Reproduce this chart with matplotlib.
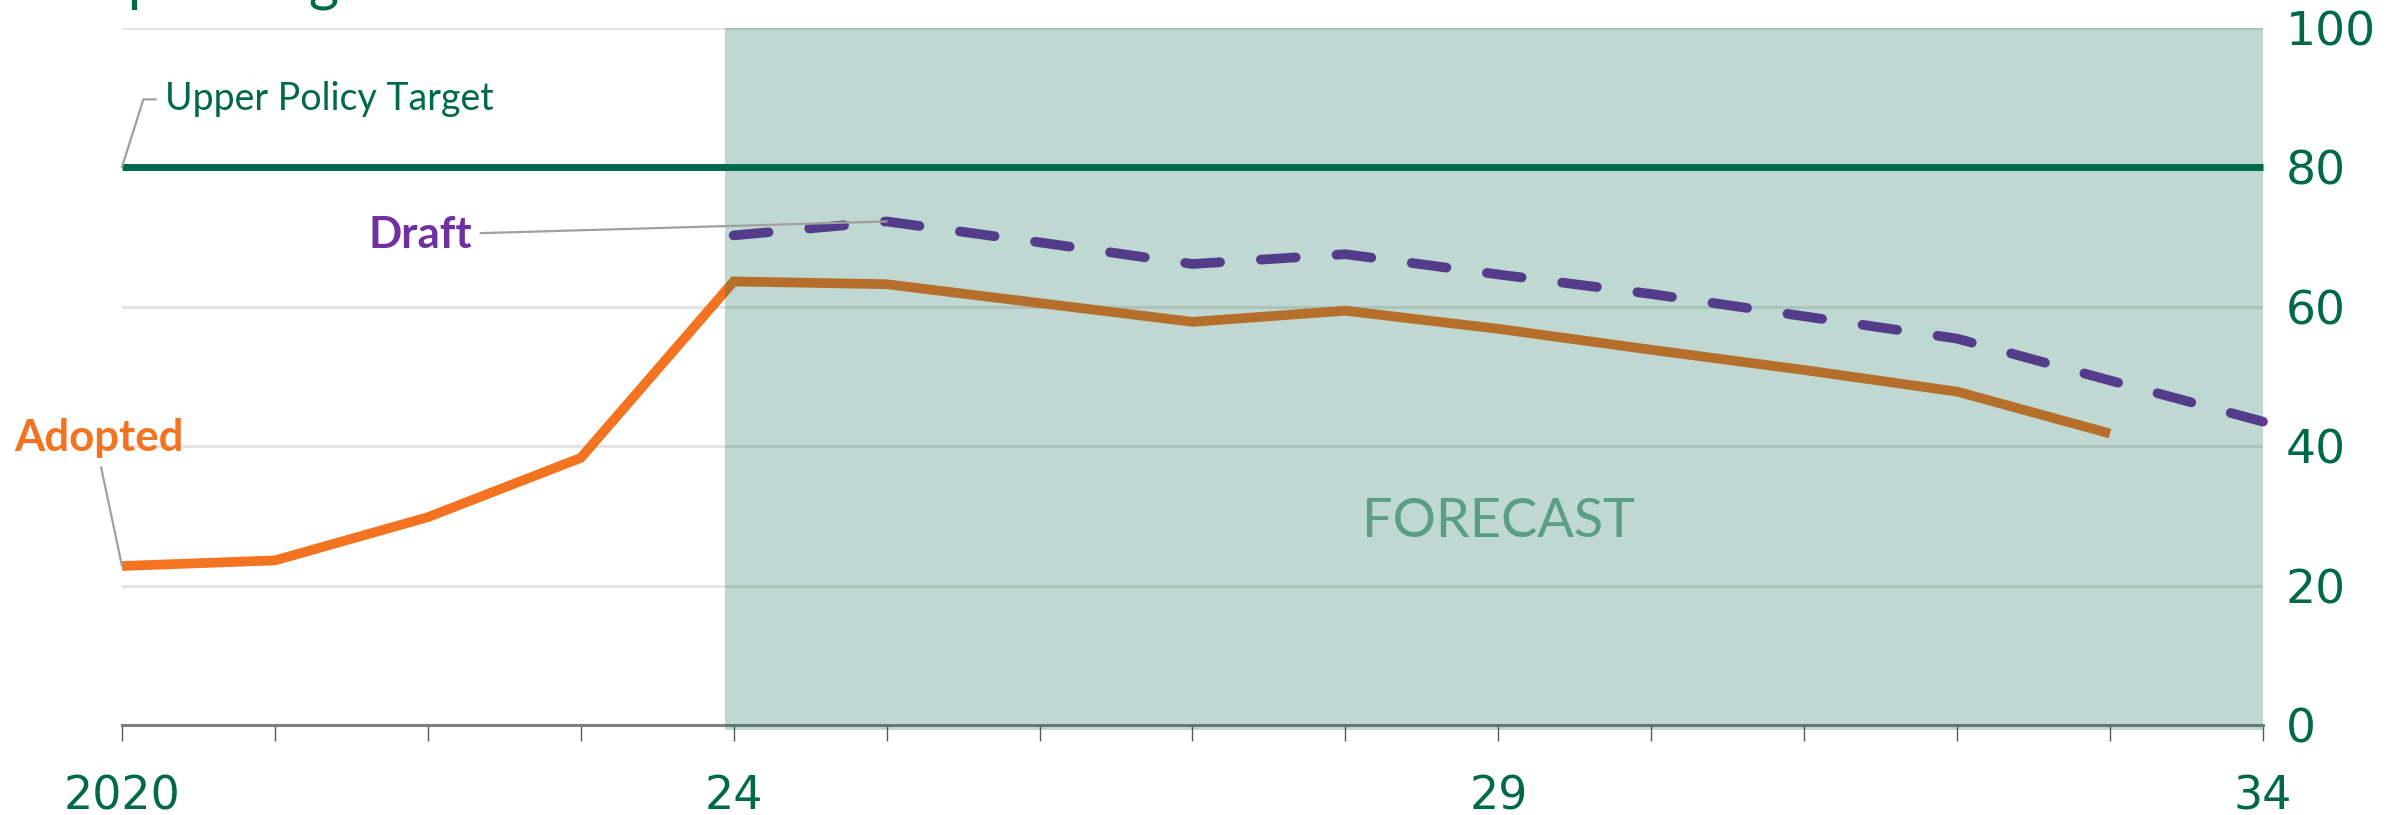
import numpy as np
import matplotlib.pyplot as plt

# data
years = [2020, 2021, 2022, 2023, 2024, 2025, 2026, 2027, 2028, 2029, 2030, 2031, 2032, 2033, 2034]
adopted = [22.8, 23.6, 29.8, 38.3, 63.6, 63.2, 60.5, 57.8, 59.4, 56.8, 53.8, 50.9, 47.8, 41.8]
draft_years = [2024, 2025, 2026, 2027, 2028, 2029, 2030, 2031, 2032, 2033, 2034]
draft = [70.2, 72.2, 69.2, 66.1, 67.5, 64.6, 61.8, 58.6, 55.4, 49.4, 43.5]
target = 80
forecast_start = 2023.94
yticks = [0, 20, 40, 60, 80, 100]
xlabels = {2020: '2020', 2024: '24', 2029: '29', 2034: '34'}

green = '#00694A'
orange = '#F47321'
purple = '#7030A0'
txtfont = 'Lato'

fig = plt.figure(figsize=(23.94, 8.15), dpi=100)
ax = fig.add_axes([0.05096, 0.1104, 0.8943, 0.8558])

# gridlines
for v in yticks[1:]:
    ax.axhline(v, color='#E4E4E4', lw=2.2, zorder=1)

# series
ax.plot(years[:len(adopted)], adopted, color=orange, lw=7, solid_capstyle='butt',
        solid_joinstyle='miter', zorder=2, clip_on=False)
ax.plot(draft_years, draft, color=purple, lw=7, dashes=(3.6, 4.2),
        dash_capstyle='round', zorder=2, clip_on=False)

# forecast shading
ax.axvspan(forecast_start, years[-1], ymin=-0.007, ymax=1, color='#00674A',
           alpha=0.25, lw=0, zorder=3, clip_on=False)
ax.text(2029, 27, 'FORECAST', color='#5A9E87', fontsize=39, family=txtfont,
        ha='center', va='baseline', zorder=5)

# target line
ax.plot([years[0], years[-1]], [target, target], color=green, lw=5, zorder=4,
        solid_capstyle='butt', clip_on=False)

# labels with leaders
lead = dict(color='#A0A0A0', lw=1.6, zorder=6, clip_on=False)
ax.plot([years[0], years[0] + 0.14, years[0] + 0.22], [target, target + 9.7, target + 9.7], **lead)
ax.text(years[0] + 0.28, target + 9.7, 'Upper Policy Target', color=green, fontsize=27,
        family=txtfont, ha='left', va='center', zorder=6)

ax.annotate('Draft', xy=(draft_years[1], draft[1]), xytext=(2022.29, 70.2),
            color=purple, fontsize=31.5, fontweight='bold', family=txtfont,
            ha='right', va='center', zorder=6, annotation_clip=False,
            arrowprops=dict(arrowstyle='-', color='#A0A0A0', lw=1.6,
                            relpos=(1, 0.55), shrinkA=4, shrinkB=0))

ax.annotate('Adopted', xy=(years[0], adopted[0]), xytext=(2019.85, 41.2),
            color=orange, fontsize=31.5, fontweight='bold', family=txtfont,
            ha='center', va='center', zorder=6, annotation_clip=False,
            arrowprops=dict(arrowstyle='-', color='#A0A0A0', lw=1.6,
                            relpos=(0.5, 0), shrinkA=5, shrinkB=0))

# clipped title at the very top
fig.text(0.034, 1.0, 'Operating Revenue', color=green, fontsize=42, family=txtfont,
         ha='left', va='baseline')

# axes
ax.set_xlim(years[0], years[-1])
ax.set_ylim(0, 100)
for s in ['top', 'left', 'right']:
    ax.spines[s].set_visible(False)
ax.spines['bottom'].set_color('#7F7F7F')
ax.spines['bottom'].set_linewidth(2.2)

ax.set_xticks(years)
ax.set_xticklabels([xlabels.get(y, '') for y in years])
ax.tick_params(axis='x', length=11.5, width=1.0, color='#595959', direction='out',
               pad=24, labelsize=33, labelcolor=green)

ax.yaxis.tick_right()
ax.set_yticks(yticks)
ax.set_yticklabels([str(v) for v in yticks])
ax.tick_params(axis='y', length=0, pad=16.5, labelsize=34, labelcolor=green)

fig.savefig('out.png', dpi=100)
